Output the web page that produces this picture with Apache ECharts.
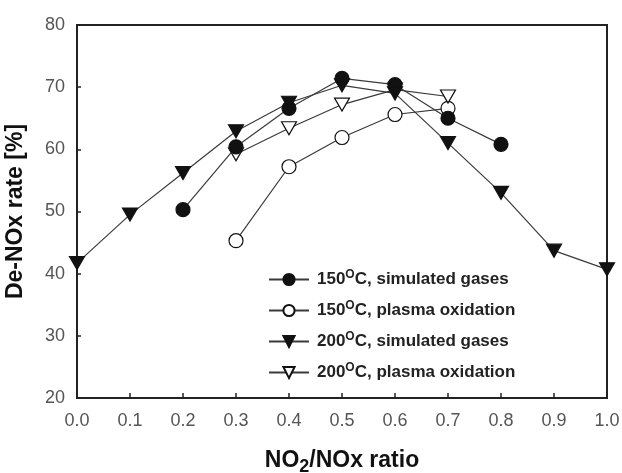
<!DOCTYPE html>
<html>
<head>
<meta charset="utf-8">
<script src="https://cdn.jsdelivr.net/npm/echarts@6/dist/echarts.min.js"></script>
<style>html,body{margin:0;padding:0;background:#fff;}#c{width:622px;height:473px;}</style>
</head>
<body>
<div id="c"></div>
<script>
// Data
var ratioS150 = [0.2, 0.3, 0.4, 0.5, 0.6, 0.7, 0.8];
var s150Sim = [50.3, 60.4, 66.6, 71.4, 70.4, 65.0, 60.8];
var ratioP150 = [0.3, 0.4, 0.5, 0.6, 0.7];
var s150Plasma = [45.3, 57.2, 61.9, 65.6, 66.6];
var ratioS200 = [0.0, 0.1, 0.2, 0.3, 0.4, 0.5, 0.6, 0.7, 0.8, 0.9, 1.0];
var s200Sim = [41.7, 49.5, 56.2, 62.9, 67.5, 70.3, 69.0, 61.0, 53.0, 43.7, 40.7];
var ratioP200 = [0.3, 0.4, 0.5, 0.6, 0.7];
var s200Plasma = [59.2, 63.4, 67.2, 69.6, 68.5];
var temps = ['150', '150', '200', '200'];
var conditions = ['C, simulated gases', 'C, plasma oxidation', 'C, simulated gases', 'C, plasma oxidation'];
var seriesNames = ['150\u1d3cC, simulated gases', '150\u1d3cC, plasma oxidation', '200\u1d3cC, simulated gases', '200\u1d3cC, plasma oxidation'];
var xTicks = ['0.0','0.1','0.2','0.3','0.4','0.5','0.6','0.7','0.8','0.9','1.0'];
var yTicks = [20, 30, 40, 50, 60, 70, 80];

function pairs(xs, ys) { return xs.map(function (x, i) { return [x, ys[i]]; }); }

var downTri = 'path://M0,0 L20,0 L10,17 Z';
var lineStyle = { color: '#3a3a3a', width: 1.2 };
function mk(name, data, symbol, filled) {
  return {
    name: name, type: 'line', data: data, symbol: symbol, symbolSize: symbol === 'circle' ? 14 : [15, 13],
    showSymbol: true, lineStyle: lineStyle,
    itemStyle: { color: filled ? '#111' : '#fff', borderColor: '#111', borderWidth: 1.2 },
    emphasis: { disabled: true }, animation: false, z: filled ? 3 : 2
  };
}

var chart = echarts.init(document.getElementById('c'), null, { renderer: 'canvas' });
chart.setOption({
  backgroundColor: '#fff',
  animation: false,
  grid: { left: 77, right: 15, top: 25, bottom: 75, containLabel: false, outerBoundsMode: 'none',
    show: true, borderColor: '#222', borderWidth: 2, backgroundColor: 'transparent' },
  xAxis: {
    type: 'value', min: 0, max: 1, interval: 0.1,
    name: '{a|NO}{b|2}{a|/NOx ratio}', nameLocation: 'middle', nameGap: 48,
    nameTextStyle: { rich: {
      a: { fontFamily: 'Liberation Sans', fontWeight: 'bold', fontSize: 23, color: '#111' },
      b: { fontFamily: 'Liberation Sans', fontWeight: 'bold', fontSize: 18, color: '#111', padding: [12, 0, 0, 0] }
    } },
    axisLine: { lineStyle: { color: '#222', width: 2 } },
    axisTick: { inside: true, length: 5, lineStyle: { color: '#222', width: 1.5 } },
    axisLabel: { fontFamily: 'Liberation Sans', fontSize: 18, color: '#555', margin: 14,
      formatter: function (v) { return xTicks[Math.round(v * 10)]; } },
    splitLine: { show: false }
  },
  yAxis: {
    type: 'value', min: 20, max: 80, interval: 10,
    name: 'De-NOx rate [%]', nameLocation: 'middle', nameGap: 50, nameRotate: 90,
    nameTextStyle: { fontFamily: 'Liberation Sans', fontWeight: 'bold', fontSize: 23, color: '#111' },
    axisLine: { lineStyle: { color: '#222', width: 2 } },
    axisTick: { inside: true, length: 4, lineStyle: { color: '#222', width: 1.5 } },
    axisLabel: { fontFamily: 'Liberation Sans', fontSize: 18, color: '#555', margin: 12,
      formatter: function (v) { return yTicks.indexOf(v) >= 0 ? String(v) : ''; } },
    splitLine: { show: false }
  },
  legend: {
    orient: 'vertical', left: 263, top: 264, itemWidth: 40, itemHeight: 14, itemGap: 12,
    data: seriesNames,
    formatter: function (name) {
      var i = seriesNames.indexOf(name);
      return '{t|' + temps[i] + '}{s|O}{a|' + conditions[i] + '}';
    },
    textStyle: { rich: {
      t: { fontFamily: 'Liberation Sans', fontWeight: 'bold', fontSize: 17, color: '#222', padding: [0, 0, 0, 3] },
      a: { fontFamily: 'Liberation Sans', fontWeight: 'bold', fontSize: 17, color: '#222' },
      s: { fontFamily: 'Liberation Sans', fontWeight: 'bold', fontSize: 12, color: '#222', padding: [0, 0, 9, 0] }
    } }
  },
  series: [
    mk(seriesNames[0], pairs(ratioS150, s150Sim), 'circle', true),
    mk(seriesNames[1], pairs(ratioP150, s150Plasma), 'circle', false),
    mk(seriesNames[2], pairs(ratioS200, s200Sim), downTri, true),
    mk(seriesNames[3], pairs(ratioP200, s200Plasma), downTri, false)
  ]
});
</script>
</body>
</html>
